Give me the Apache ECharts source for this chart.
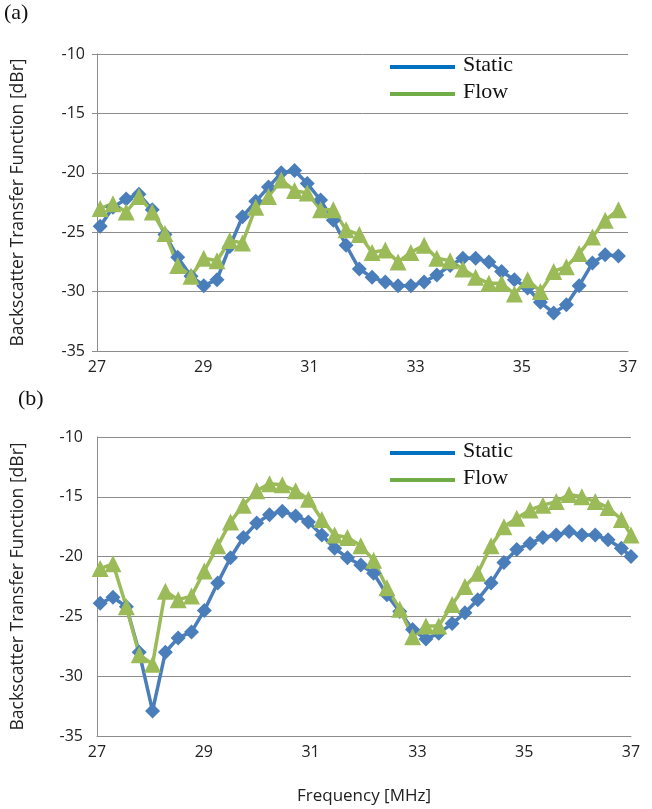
<!DOCTYPE html>
<html>
<head>
<meta charset="utf-8">
<script src="https://cdn.jsdelivr.net/npm/echarts@6/dist/echarts.min.js"></script>
<style>
html,body{margin:0;padding:0;background:#fff;}
#chart{width:652px;height:809px;}
</style>
</head>
<body>
<div id="chart"></div>
<script>
// Frequencies [MHz]
const freq = [27.06,27.30,27.55,27.79,28.04,28.28,28.52,28.77,29.01,29.26,
  29.50,29.74,29.99,30.23,30.47,30.72,30.96,31.21,31.45,31.69,
  31.94,32.18,32.43,32.67,32.91,33.16,33.40,33.65,33.89,34.13,
  34.38,34.62,34.86,35.11,35.35,35.60,35.84,36.08,36.33,36.57,
  36.82,37.00];
const xTicks = [27, 29, 31, 33, 35, 37];
const yTicks = [-35, -30, -25, -20, -15, -10];

// Panel (a)
const staticA = [-24.5,-22.9,-22.2,-21.8,-23.1,-25.2,-27.1,-28.7,-29.5,-29.0,
  -26.2,-23.7,-22.4,-21.2,-20.0,-19.8,-20.9,-22.3,-24.0,-26.1,
  -28.1,-28.8,-29.2,-29.5,-29.5,-29.2,-28.6,-27.8,-27.2,-27.2,
  -27.5,-28.3,-29.0,-29.7,-30.9,-31.8,-31.1,-29.5,-27.6,-26.9,-27.0];
const flowA = [-23.0,-22.6,-23.3,-22.0,-23.3,-25.1,-27.8,-28.7,-27.2,-27.4,
  -25.7,-25.9,-22.9,-22.0,-20.6,-21.5,-21.7,-23.1,-23.1,-24.8,
  -25.2,-26.7,-26.5,-27.5,-26.7,-26.1,-27.2,-27.4,-28.1,-28.8,
  -29.3,-29.3,-30.2,-29.0,-30.0,-28.3,-27.9,-26.8,-25.4,-24.0,-23.1];

// Panel (b)
const staticB = [-23.9,-23.4,-24.2,-28.0,-32.9,-28.0,-26.8,-26.3,-24.5,-22.2,
  -20.1,-18.4,-17.2,-16.5,-16.2,-16.6,-17.1,-18.2,-19.3,-20.1,
  -20.7,-21.4,-23.2,-24.6,-26.1,-26.9,-26.4,-25.6,-24.7,-23.6,
  -22.2,-20.5,-19.4,-18.9,-18.4,-18.2,-17.9,-18.2,-18.2,-18.6,-19.3,-20.0];
const flowB = [-21.0,-20.6,-24.2,-28.2,-29.0,-22.9,-23.6,-23.3,-21.2,-19.1,
  -17.1,-15.7,-14.5,-13.9,-14.0,-14.5,-15.2,-16.9,-18.2,-18.4,
  -19.1,-20.3,-22.6,-24.4,-26.7,-25.8,-25.8,-24.0,-22.5,-21.4,
  -19.1,-17.5,-16.8,-16.1,-15.7,-15.4,-14.8,-15.0,-15.4,-15.9,-16.9,-18.2];

const seriesNames = ['Static', 'Flow'];
const yName = 'Backscatter Transfer Function [dBr]';
const xName = 'Frequency [MHz]';

const pair = (vals) => vals.map((v, i) => [freq[i], v]);
const BLUE = '#4A7EBB', GREEN = '#9BBB59';
const gridCol = '#8c8c8c';
const sansFont = '"Open Sans", "Noto Sans", sans-serif';
const serifFont = '"Liberation Serif", "DejaVu Serif", serif';

function xAxisCfg(gi, withName) {
  return {
    type: 'value', gridIndex: gi, min: xTicks[0], max: xTicks[xTicks.length - 1], interval: 2,
    axisLine: {show: true, lineStyle: {color: gridCol, width: 1}},
    axisTick: {show: false},
    splitLine: {show: false},
    axisLabel: {fontFamily: sansFont, fontSize: 16, color: '#222', margin: 8},
    name: withName ? xName : '', nameLocation: 'middle', nameGap: 52,
    nameTextStyle: {fontFamily: sansFont, fontSize: 17, color: '#222'}
  };
}
function yAxisCfg(gi, ticks) {
  return {
    type: 'value', gridIndex: gi, min: yTicks[0], max: yTicks[yTicks.length - 1], interval: 5,
    axisLine: {show: true, onZero: false, lineStyle: {color: gridCol, width: 1}},
    axisTick: {show: ticks, length: 5, lineStyle: {color: gridCol}},
    splitLine: {show: true, lineStyle: {color: gridCol, width: 1}},
    axisLabel: {fontFamily: sansFont, fontSize: 16, color: '#222', margin: ticks ? 12 : 14},
    name: yName, nameLocation: 'middle', nameGap: 70,
    nameTextStyle: {fontFamily: sansFont, fontSize: 17.5, color: '#222'}
  };
}
function lineSeries(name, data, xi, color, symbol, size) {
  return {
    name: name, type: 'line', xAxisIndex: xi, yAxisIndex: xi, data: pair(data),
    symbol: symbol, symbolSize: size, showSymbol: true, clip: false,
    lineStyle: {color: color, width: 3.5},
    itemStyle: {color: color},
    emphasis: {disabled: true}, animation: false
  };
}
function legendGraphic(y0) {
  return [
    {type: 'line', shape: {x1: 390, y1: y0, x2: 455, y2: y0}, style: {stroke: '#0070C0', lineWidth: 4}},
    {type: 'text', left: 463, top: y0 - 13, style: {text: seriesNames[0], font: '22px ' + serifFont, fill: '#111'}},
    {type: 'line', shape: {x1: 390, y1: y0 + 27, x2: 455, y2: y0 + 27}, style: {stroke: '#70AD47', lineWidth: 4}},
    {type: 'text', left: 463, top: y0 + 14, style: {text: seriesNames[1], font: '22px ' + serifFont, fill: '#111'}}
  ];
}

const chart = echarts.init(document.getElementById('chart'), null, {renderer: 'canvas'});
chart.setOption({
  animation: false,
  backgroundColor: '#fff',
  grid: [
    {left: 97, right: 24, top: 54, height: 297},
    {left: 97, right: 21, top: 437, height: 299}
  ],
  xAxis: [xAxisCfg(0, false), xAxisCfg(1, true)],
  yAxis: [yAxisCfg(0, true), yAxisCfg(1, false)],
  series: [
    lineSeries(seriesNames[0], staticA, 0, BLUE, 'diamond', 15),
    lineSeries(seriesNames[1], flowA, 0, GREEN, 'triangle', 17),
    lineSeries(seriesNames[0], staticB, 1, BLUE, 'diamond', 15),
    lineSeries(seriesNames[1], flowB, 1, GREEN, 'triangle', 17)
  ],
  graphic: [
    {type: 'text', left: 4, top: 2, style: {text: '(a)', font: '22px ' + serifFont, fill: '#111'}},
    {type: 'text', left: 18, top: 388, style: {text: '(b)', font: '22px ' + serifFont, fill: '#111'}}
  ].concat(legendGraphic(67), legendGraphic(453))
});
</script>
</body>
</html>
